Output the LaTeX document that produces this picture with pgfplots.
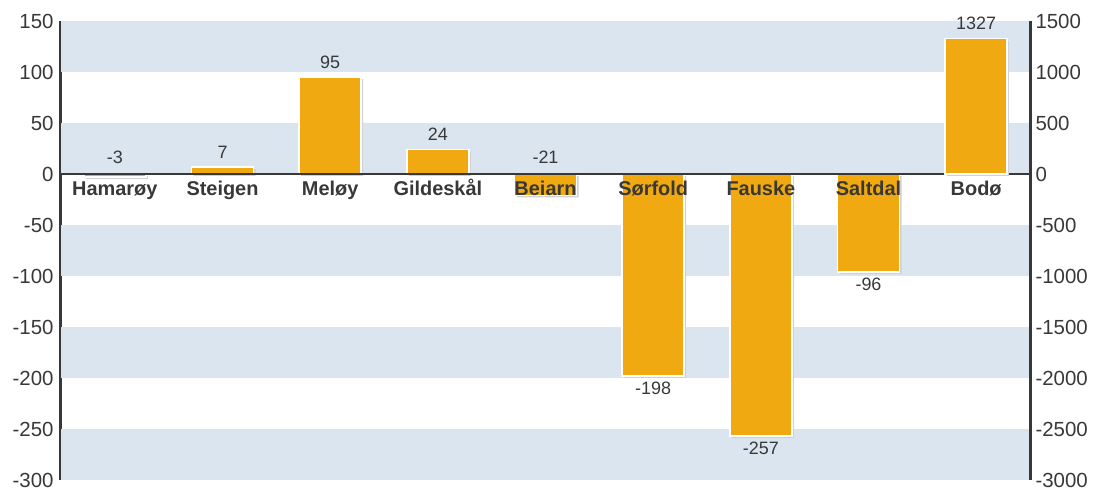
\documentclass[border=0pt]{standalone}
\usepackage{fontspec}
\setmainfont{Liberation Sans}
\usepackage{pgfplots}
\pgfplotsset{compat=1.18}
\definecolor{barfill}{HTML}{F0A910}
\definecolor{band}{HTML}{DAE5F0}
\definecolor{ink}{HTML}{383838}
\begin{document}
\begin{tikzpicture}
\pgfplotsset{
  base/.style={
    width=969bp, height=459bp, scale only axis,
    xmin=-0.5, xmax=8.5,
    major tick length=0pt,
    y tick label style={font=\fontsize{20.5}{24}\selectfont, text=ink},
    /pgf/number format/assume math mode=true,
    /pgf/number format/set thousands separator={},
    y axis line style={line width=3bp, draw=ink},
    clip=false,
  },
  bars/.style={ybar, bar width=62bp, bar shift=0pt, fill=barfill,
    draw=white, line width=1.5bp,
    preaction={fill=black!18, draw=none, transform canvas={xshift=2bp, yshift=-2bp}}},
  vals/.style={draw=none, mark=none, nodes near coords, point meta=explicit symbolic,
    every node near coord/.append style={font=\fontsize{18}{22}\selectfont, text=ink, anchor=#1}},
}
% left scale
\begin{axis}[base, name=ax, ymin=-300, ymax=150, ytick={-300,-250,...,150},
  axis x line=none, axis y line*=left,
  y tick label style={xshift=-4bp}]
  \fill[band] (axis cs:-0.5,100) rectangle (axis cs:8.5,150);
  \fill[band] (axis cs:-0.5,0) rectangle (axis cs:8.5,50);
  \fill[band] (axis cs:-0.5,-100) rectangle (axis cs:8.5,-50);
  \fill[band] (axis cs:-0.5,-200) rectangle (axis cs:8.5,-150);
  \fill[band] (axis cs:-0.5,-300) rectangle (axis cs:8.5,-250);
  \addplot[bars] coordinates {(0,-3) (1,7) (2,95) (3,24) (4,-21) (5,-198) (6,-257) (7,-96)};
  % value labels above
  \addplot[vals=south, every node near coord/.append style={yshift=4bp}]
    coordinates {(0,3)[-3] (1,8)[7] (2,96)[95] (3,25)[24] (4,3)[-21]};
  % value labels below
  \addplot[vals=north] coordinates {(5,-200)[-198] (6,-259)[-257] (7,-98)[-96]};
\end{axis}
% right scale (Bodø)
\begin{axis}[base, ymin=-3000, ymax=1500, ytick={-3000,-2500,...,1500},
  axis y line*=right, axis x line*=middle,
  y tick label style={xshift=2bp},
  x axis line style={line width=2bp, draw=ink, -},
  xtick={0,...,8},
  xticklabels={Hamarøy,Steigen,Meløy,Gildeskål,Beiarn,Sørfold,Fauske,Saltdal,Bodø},
  x tick label style={font=\bfseries\fontsize{20}{24}\selectfont, text=ink, anchor=north,
    text height=15bp, text depth=4bp, yshift=-3bp}]
  \addplot[bars, nodes near coords,
    every node near coord/.append style={font=\fontsize{18}{22}\selectfont, text=ink, anchor=south, yshift=5bp}]
    coordinates {(8,1327)};
\end{axis}
\pgfresetboundingbox
\path[use as bounding box] ([xshift=-61bp,yshift=-10bp]ax.south west) rectangle ([xshift=65bp,yshift=21bp]ax.north east);
\end{tikzpicture}
\end{document}
